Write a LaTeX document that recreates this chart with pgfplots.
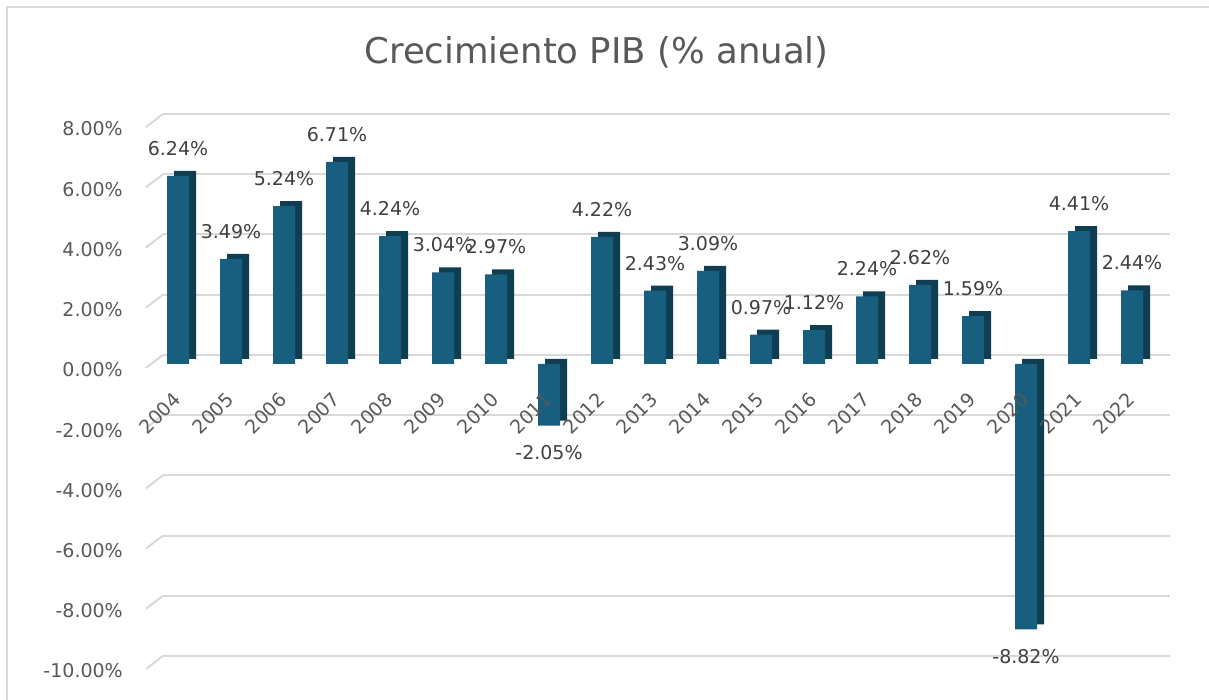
\documentclass[border=0pt]{standalone}
\usepackage{fontspec}
\setmainfont{DejaVu Sans}
\usepackage{pgfplots}
\pgfplotsset{compat=1.18}
\definecolor{barfront}{HTML}{175E7F}
\definecolor{barside}{HTML}{0F3D51}
\definecolor{gridc}{HTML}{D9D9D9}
\definecolor{tickc}{HTML}{595959}
\definecolor{labc}{HTML}{404040}
\pgfplotsset{samegeom/.style={
  at={(163pt,44pt)}, anchor=south west,
  scale only axis, width=1007pt, height=542pt,
  xmin=-0.5, xmax=18.5, ymin=-10, ymax=8,
  clip=false,
  axis line style={draw=none},
  tick style={draw=none}}}
\begin{document}
\begin{tikzpicture}[x=1pt,y=1pt]
\fill[white] (0,0) rectangle (1209,700);
\draw[gridc, line width=2pt] (7,-5) -- (7,692.5) -- (1215,692.5);
\node[font=\fontsize{35.5}{42}\selectfont, text=tickc] at (596.5,648) {Crecimiento PIB (\% anual)};
\begin{axis}[
  samegeom,
  ybar, bar width=22pt, bar shift=0pt,
  ymajorgrids, major grid style={gridc, line width=2pt},
  ytick={-10,-8,-6,-4,-2,0,2,4,6,8},
  yticklabels={-10.00\%,-8.00\%,-6.00\%,-4.00\%,-2.00\%,0.00\%,2.00\%,4.00\%,6.00\%,8.00\%},
  y tick label style={font=\fontsize{19}{22}\selectfont, text=tickc, anchor=east, inner sep=0pt, xshift=-40pt, yshift=-15pt},
  xtick=\empty,
  /pgf/number format/.cd, fixed, fixed zerofill, precision=2, assume math mode=true,
]
\pgfplotsinvokeforeach{-10,-8,-6,-4,-2,0,2,4,6,8}{\draw[gridc,line width=2pt] (axis cs:-0.5,#1) -- ++(-17pt,-13pt);}
\addplot[fill=barside, draw=none, xshift=-4.5pt, yshift=-4pt] coordinates {
(0,6.24) (1,3.49) (2,5.24) (3,6.71) (4,4.24) (5,3.04) (6,2.97) (7,-2.05) (8,4.22) (9,2.43)
(10,3.09) (11,0.97) (12,1.12) (13,2.24) (14,2.62) (15,1.59) (16,-8.82) (17,4.41) (18,2.44)};
\addplot[fill=barfront, draw=none, xshift=-11.5pt, yshift=-9pt,
  nodes near coords={\pgfmathprintnumber{\pgfplotspointmeta}\%},
  every node near coord/.append style={font=\fontsize{19}{22}\selectfont, text=labc, inner xsep=0pt, inner ysep=20pt}] coordinates {
(0,6.24) (1,3.49) (2,5.24) (3,6.71) (4,4.24) (5,3.04) (6,2.97) (7,-2.05) (8,4.22) (9,2.43)
(10,3.09) (11,0.97) (12,1.12) (13,2.24) (14,2.62) (15,1.59) (16,-8.82) (17,4.41) (18,2.44)};
\end{axis}
\begin{axis}[
  samegeom,
  ytick=\empty,
  xtick={0,1,...,18},
  xticklabels={2004,2005,2006,2007,2008,2009,2010,2011,2012,2013,2014,2015,2016,2017,2018,2019,2020,2021,2022},
  x tick label style={font=\fontsize{19}{22}\selectfont, text=tickc, inner sep=0pt, xshift=-12.5pt, yshift=260pt, rotate=45, anchor=east},
]
\end{axis}
\pgfresetboundingbox
\useasboundingbox (0,0) rectangle (1209,700);
\end{tikzpicture}
\end{document}
